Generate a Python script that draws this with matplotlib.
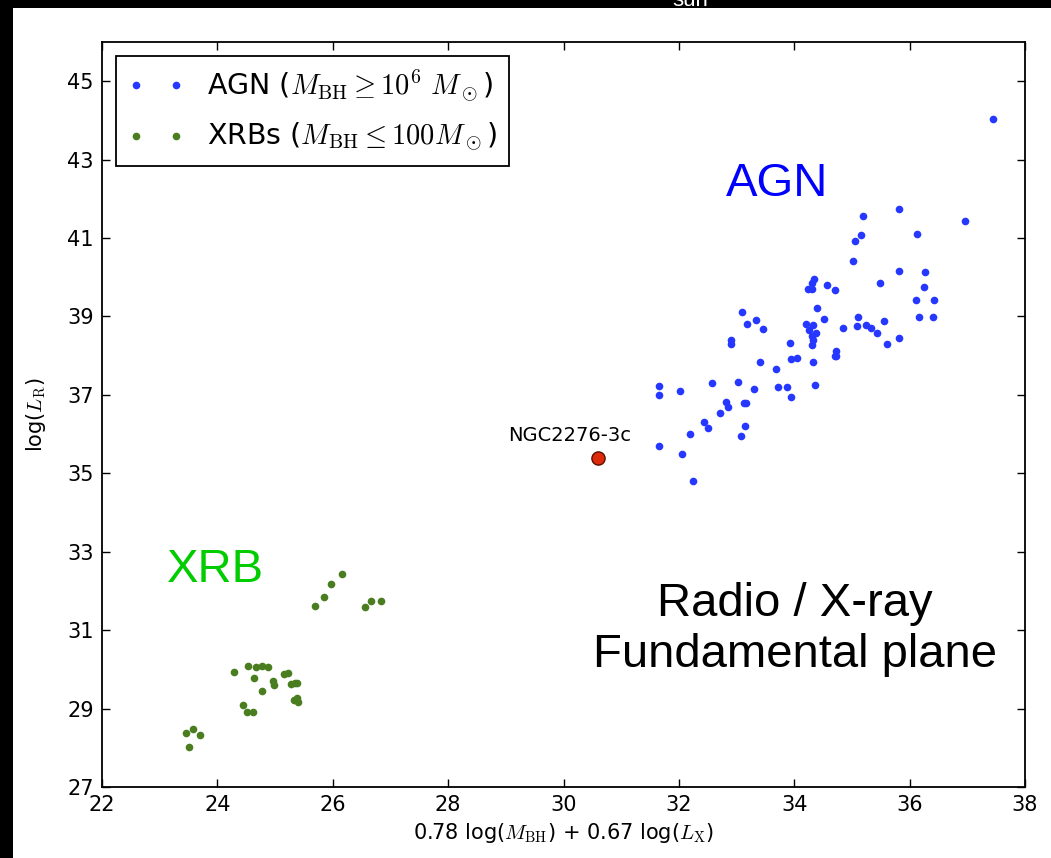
import matplotlib
matplotlib.use('Agg')
import matplotlib.pyplot as plt
from matplotlib.patches import Rectangle

plt.rcParams['mathtext.fontset'] = 'cm'
plt.rcParams['font.family'] = 'DejaVu Sans'

# AGN sample (x = 0.78 log M_BH + 0.67 log L_X, y = log L_R)
agn_x = [37.44, 35.82, 35.19, 36.96, 35.16, 36.13, 35.05, 35.02, 35.81, 36.26,
         35.49, 36.24, 34.35, 34.31, 34.24, 34.31, 34.56, 34.71, 36.11, 36.43,
         34.39, 33.09, 33.18, 33.33, 33.45, 34.51, 36.17, 36.40, 35.11, 35.09,
         35.55, 34.20, 34.33, 34.84, 35.24, 35.33, 35.44, 34.25, 34.38, 34.31,
         34.33, 34.31, 32.90, 32.90, 33.93, 35.82, 35.61, 34.73, 34.73, 34.70,
         33.41, 33.69, 33.95, 34.05, 34.32, 31.65, 31.65, 32.02, 32.57, 33.02,
         33.31, 33.72, 33.87, 33.95, 34.36, 32.81, 32.85, 32.72, 33.12, 33.16,
         32.44, 32.51, 33.15, 33.08, 32.20, 31.66, 32.05, 32.24]
agn_y = [44.04, 41.74, 41.55, 41.43, 41.08, 41.09, 40.92, 40.41, 40.17, 40.14,
         39.86, 39.75, 39.96, 39.86, 39.70, 39.70, 39.79, 39.68, 39.41, 39.43,
         39.21, 39.12, 38.80, 38.91, 38.68, 38.93, 38.98, 38.98, 38.98, 38.76,
         38.89, 38.81, 38.79, 38.70, 38.78, 38.71, 38.58, 38.65, 38.59, 38.50,
         38.40, 38.26, 38.40, 38.30, 38.32, 38.45, 38.30, 38.12, 37.99, 37.99,
         37.83, 37.65, 37.91, 37.94, 37.84, 37.22, 36.99, 37.10, 37.29, 37.34,
         37.16, 37.20, 37.19, 36.95, 37.25, 36.82, 36.70, 36.53, 36.78, 36.78,
         36.30, 36.15, 36.20, 35.94, 36.00, 35.70, 35.50, 34.80]

# X-ray binaries
xrb_x = [26.16, 25.97, 25.84, 25.70, 26.56, 26.66, 26.83, 24.29, 24.53, 24.67,
         24.77, 24.87, 24.64, 25.16, 25.22, 24.97, 24.98, 25.27, 25.35, 25.38,
         24.77, 25.33, 25.38, 25.39, 24.44, 24.52, 24.61, 23.45, 23.57, 23.70,
         23.50]
xrb_y = [32.42, 32.17, 31.84, 31.61, 31.59, 31.75, 31.75, 29.93, 30.08, 30.06,
         30.08, 30.07, 29.79, 29.88, 29.90, 29.70, 29.61, 29.62, 29.64, 29.64,
         29.44, 29.23, 29.26, 29.16, 29.10, 28.91, 28.91, 28.37, 28.48, 28.33,
         28.01]

# the ULX source
ngc_x = [30.59]
ngc_y = [35.40]
ngc_name = 'NGC2276-3c'

x_ticks = [22, 24, 26, 28, 30, 32, 34, 36, 38]
y_ticks = [27, 29, 31, 33, 35, 37, 39, 41, 43, 45]

fig = plt.figure(figsize=(10.51, 8.58), dpi=100)
fig.patch.set_facecolor('white')

# black slide border (left strip and top bar, with the cut-off title bit)
fig.patches.append(Rectangle((0, 0), 13 / 1051, 1, transform=fig.transFigure,
                             facecolor='black', edgecolor='none', zorder=0))
fig.patches.append(Rectangle((0, 1 - 8 / 858), 1, 8 / 858, transform=fig.transFigure,
                             facecolor='black', edgecolor='none', zorder=0))
fig.text(0.657, 1 - 6 / 858, 'sun', color='white', fontsize=16,
         family='Liberation Sans', ha='center', va='baseline')

ax = fig.add_axes([0.0971, 0.0828, 0.8782, 0.8683])

ax.plot(agn_x, agn_y, 'o', color='#2638ff', markersize=5.5, markeredgewidth=0,
        label=r'AGN ($M_{\rm BH} \geq 10^6\ M_\odot$)')
ax.plot(xrb_x, xrb_y, 'o', color='#4a7d20', markersize=5.5, markeredgewidth=0,
        label=r'XRBs ($M_{\rm BH} \leq 100 M_\odot$)')
ax.plot(ngc_x, ngc_y, 'o', color='#dd2a0a', markersize=9.5,
        markeredgecolor='#5a1000', markeredgewidth=1)
ax.annotate(ngc_name, xy=(ngc_x[0], ngc_y[0]), xytext=(-20, 9),
            textcoords='offset points', ha='center', va='bottom', fontsize=14)

ax.set_xlim(22, 38)
ax.set_ylim(27, 46)
ax.set_xticks(x_ticks)
ax.set_yticks(y_ticks)
ax.tick_params(direction='in', top=True, right=True, length=6, width=1,
               labelsize=15, pad=6)
for sp in ax.spines.values():
    sp.set_linewidth(1.3)

ax.set_xlabel(r'0.78 log($M_{\rm BH}$) + 0.67 log($L_{\rm X}$)', fontsize=15)
ax.set_ylabel(r'log($L_{\rm R}$)', fontsize=15, labelpad=14)

leg = ax.legend(loc='upper left', numpoints=2, fontsize=20.5, fancybox=False,
                framealpha=1, borderaxespad=0.5, labelspacing=0.62)
leg.get_frame().set_edgecolor('black')
leg.get_frame().set_linewidth(1.3)

ax.text(0.731, 0.793, 'AGN', transform=ax.transAxes, color='#0000ff',
        fontsize=34, family='Liberation Sans', ha='center', va='baseline')
ax.text(0.123, 0.275, 'XRB', transform=ax.transAxes, color='#00cc00',
        fontsize=34, family='Liberation Sans', ha='center', va='baseline')
ax.text(0.751, 0.211, 'Radio / X-ray\nFundamental plane', transform=ax.transAxes,
        color='black', fontsize=34, family='Liberation Sans', ha='center',
        va='center', multialignment='center', linespacing=1.2)

fig.savefig('out.png', dpi=100, facecolor=fig.get_facecolor())
